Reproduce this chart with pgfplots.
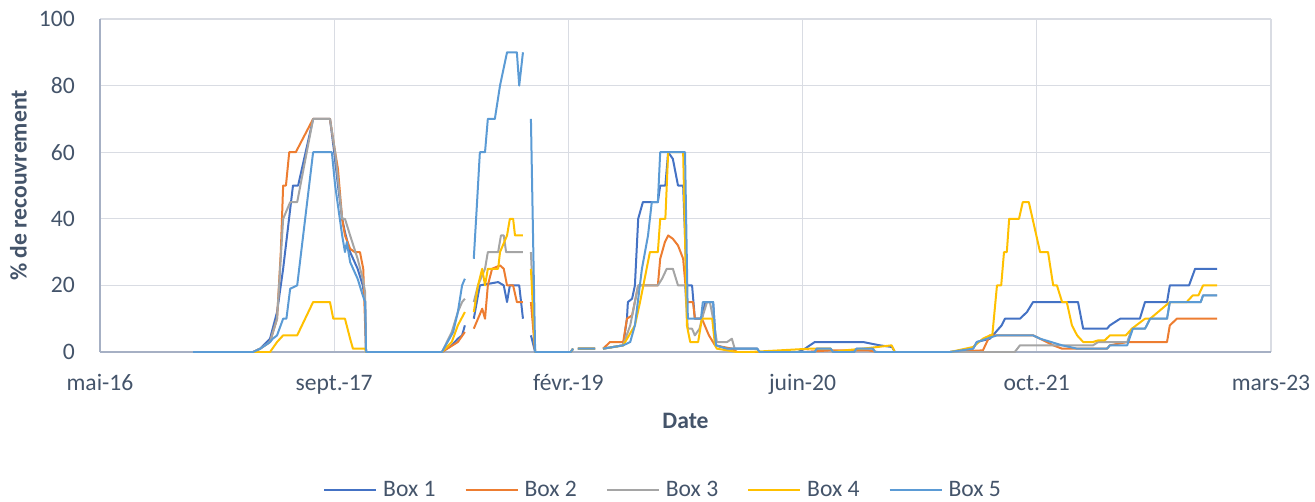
\documentclass[border=0pt]{standalone}
\usepackage{fontspec}
\setmainfont{Carlito}
\usepackage{pgfplots}
\pgfplotsset{compat=1.18}
\definecolor{boxa}{HTML}{4472C4}
\definecolor{boxb}{HTML}{ED7D31}
\definecolor{boxc}{HTML}{A5A5A5}
\definecolor{boxd}{HTML}{FFC000}
\definecolor{boxe}{HTML}{5B9BD5}
\definecolor{gridc}{RGB}{217,220,227}
\definecolor{axisc}{RGB}{166,176,196}
\definecolor{labc}{HTML}{44546A}
\newcommand{\chartfont}{\fontsize{17.7}{21}\selectfont}
\begin{document}
\begin{tikzpicture}
\path[use as bounding box] (-75pt,-111.75pt) rectangle (911.25pt,264pt);
\begin{axis}[
  at={(0pt,0pt)}, anchor=south west,
  width=878.25pt, height=249.75pt, scale only axis,
  xmin=0, xmax=2500, ymin=0, ymax=100,
  xtick={0,500,1000,1500,2000,2500},
  xticklabels={mai-16,sept.-17,févr.-19,juin-20,oct.-21,mars-23},
  ytick={0,20,40,60,80,100},
  axis x line*=bottom, axis y line*=left, axis line style={-, draw=axisc, line width=0.9pt},
  grid=major, major grid style={draw=gridc, line width=0.9pt},
  major tick length=0pt,
  /pgf/number format/assume math mode=true,
  tick label style={font=\chartfont, text=labc},
  yticklabel style={inner sep=0pt, xshift=-18.75pt},
  xticklabel style={inner sep=0pt, anchor=base, yshift=-28.5pt},
  xlabel={Date}, ylabel={\% de recouvrement},
  every axis x label/.style={at={(axis description cs:0.5,-0.2057)}, anchor=center,
    inner sep=0pt, font=\bfseries\chartfont, text=labc},
  every axis y label/.style={at={(axis description cs:-0.0696,0.5)}, anchor=center,
    inner sep=0pt, rotate=90, font=\bfseries\chartfont, text=labc},
  unbounded coords=jump,
  every axis plot/.append style={line width=1.5pt, line join=round},
  legend columns=5,
  legend style={at={(axis description cs:0.48,-0.4129)}, anchor=center, draw=none, fill=none,
    font=\chartfont, text=labc, nodes={inner sep=0pt},
    /tikz/every odd column/.append style={column sep=4.5pt},
    /tikz/every even column/.append style={column sep=21.75pt}},
  legend image code/.code={\draw[#1] (0pt,0pt) -- (39pt,0pt);},
]
% Box 1
\addplot[boxa] table {
199 0
327 0
342 1
363 4
378 12
391 25
412 50
423 50
455 70
491 70
500 60
508 50
517 40
523 36
534 30
550 25
561 20
566 15
568 0
730 0
751 2
764 4
773 5
779 8
nan nan
798 10
807 17
811 20
850 21
862 20
869 15
875 20
895 20
903 10
nan nan
920 5
929 0
1005 0
1010 1
nan nan
1020 1
1057 1
nan nan
1074 1
1117 2
1125 10
1127 15
1136 16
1142 20
1149 40
1159 45
1191 45
1196 50
1207 50
1213 60
1223 58
1234 50
1245 50
1253 20
1264 20
1270 10
1285 10
1292 15
1309 15
1315 2
1339 1
1403 1
1408 0
1490 0
1505 1
1526 3
1629 3
1665 2
1691 1.5
1697 0
1815 0
1864 1
1872 3
1900 4
1925 8
1932 10
1964 10
1979 12
1992 15
2088 15
2099 7
2150 7
2156 8
2178 10
2220 10
2231 15
2278 15
2284 20
2325 20
2338 25
2385 25
};
\addlegendentry{Box 1}
% Box 2
\addplot[boxb] table {
199 0
327 0
342 1
363 3
378 10
386 30
391 50
397 50
404 60
418 60
455 70
491 70
502 60
508 55
517 40
523 35
534 31
544 30
555 30
562 25
568 0
730 0
764 3
779 6
nan nan
798 7
807 10
816 13
822 10
828 20
837 25
854 26
862 25
869 20
882 20
890 15
903 15
nan nan
920 15
929 0
1005 0
1010 1
nan nan
1020 1
1057 1
nan nan
1074 1
1089 3
1117 3
1125 10
1136 11
1149 20
1191 20
1196 28
1206 33
1213 35
1223 34
1234 32
1245 28
1253 15
1266 15
1270 10
1285 10
1300 5
1313 2
1349 1
1360 0
1500 0
1560 0.5
1640 0.5
1660 0
1697 0
1815 0
1885 0.5
1900 5
1992 5
2007 4
2035 2
2054 1
2150 1
2156 2
2193 3
2278 3
2284 8
2299 10
2385 10
};
\addlegendentry{Box 2}
% Box 3
\addplot[boxc] table {
199 0
327 0
342 1
363 3
378 10
391 40
400 43
406 45
421 45
455 70
491 70
502 60
517 40
523 40
534 35
550 28
561 22
566 18
568 0
730 0
751 6
764 12
773 15
779 16
nan nan
798 15
807 20
822 25
828 30
850 30
856 35
862 35
867 30
890 30
903 30
nan nan
920 30
929 0
1005 0
1010 1
nan nan
1020 1
1057 1
nan nan
1074 1
1117 2
1132 8
1149 20
1191 20
1200 22
1210 25
1223 25
1234 20
1249 20
1255 7
1264 7
1270 5
1280 7
1285 10
1296 15
1302 15
1309 10
1317 3
1339 3
1349 4
1355 1
1403 1
1408 0
1526 0
1530 1
1560 1
1565 0
1610 0
1615 1
1650 1
1655 0
1697 0
1815 0
1953 0
1964 2
2120 2
2131 3
2193 3
2203 7
2231 7
2242 10
2278 10
2284 15
2350 15
2355 17
2385 17
};
\addlegendentry{Box 3}
% Box 4
\addplot[boxd] table {
199 0
363 0
378 3
391 5
421 5
455 15
491 15
498 10
523 10
534 4
540 1
566 1
568 0
730 0
751 3
764 8
779 12
nan nan
798 12
807 20
816 25
822 20
828 25
850 25
854 30
869 35
875 40
882 40
886 35
903 35
nan nan
920 25
929 0
1005 0
1010 1
nan nan
1020 1
1057 1
nan nan
1074 1
1117 2
1142 8
1153 15
1160 20
1174 30
1191 30
1196 40
1207 40
1213 60
1245 60
1253 8
1260 3
1277 3
1285 10
1307 10
1313 2
1317 1
1360 0
1388 0
1516 1
1560 1
1565 0
1590 0.5
1629 1
1690 2
1697 0
1815 0
1864 1.5
1885 4
1900 5
1905 5
1915 20
1924 20
1930 30
1936 30
1941 40
1962 40
1970 45
1983 45
2007 30
2024 30
2035 20
2043 20
2054 15
2064 15
2075 8
2086 5
2099 3
2120 3
2131 3.5
2145 3.5
2156 5
2190 5
2203 7
2231 10
2242 10
2284 15
2320 15
2333 17
2345 17
2355 20
2385 20
};
\addlegendentry{Box 4}
% Box 5
\addplot[boxe] table {
199 0
327 0
342 1
363 3
369 4
378 5
391 10
398 10
406 19
421 20
455 60
495 60
502 50
517 35
523 30
527 33
534 27
550 22
561 17
566 15
568 0
730 0
754 6
764 12
773 20
779 22
nan nan
798 28
805 45
811 60
822 60
828 70
843 70
854 80
869 90
890 90
895 80
903 90
nan nan
920 70
929 0
1005 0
1010 1
nan nan
1020 1
1057 1
nan nan
1074 1
1117 2
1132 3
1142 8
1157 25
1170 35
1178 45
1191 45
1196 60
1249 60
1255 10
1283 10
1287 15
1309 15
1315 2
1339 1
1403 1
1408 0
1526 0
1530 1
1560 1
1565 0
1610 0
1615 1
1650 1
1655 0
1697 0
1815 0
1864 1
1872 3
1915 5
1992 5
2007 4
2054 2
2086 1
2150 1
2156 2
2193 2
2205 7
2231 7
2242 10
2278 10
2284 15
2350 15
2355 17
2385 17
};
\addlegendentry{Box 5}
\end{axis}
\end{tikzpicture}
\end{document}
